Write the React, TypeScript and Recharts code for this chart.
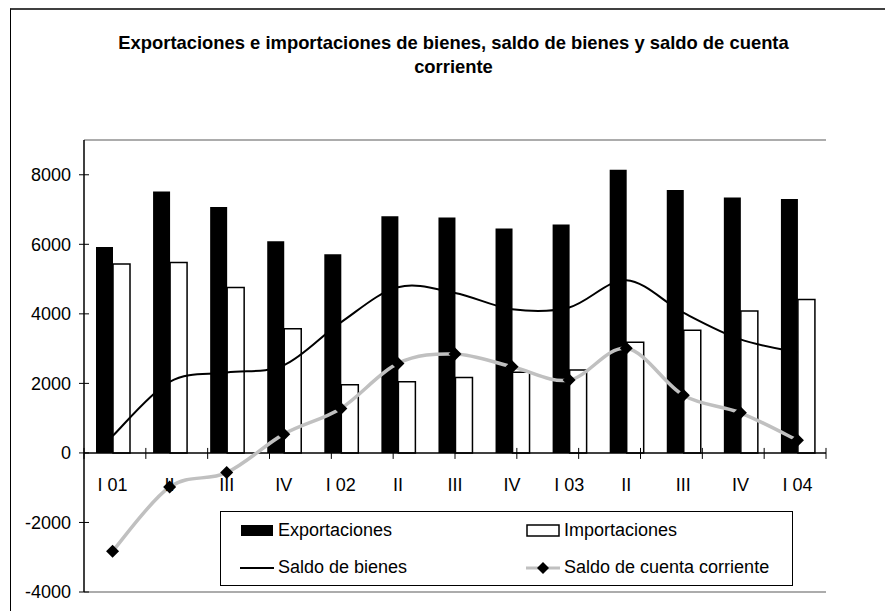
import React from 'react';
import {
    ComposedChart,
    Bar,
    Line,
    XAxis,
    YAxis,
    ReferenceLine,
    ReferenceDot,
} from 'recharts';

// Trimestres: claves únicas + etiqueta visible
const quarterKeys = ['I 01', 'II 01', 'III 01', 'IV 01', 'I 02', 'II 02', 'III 02', 'IV 02', 'I 03', 'II 03', 'III 03', 'IV 03', 'I 04'];
const quarterLabels = ['I 01', 'II', 'III', 'IV', 'I 02', 'II', 'III', 'IV', 'I 03', 'II', 'III', 'IV', 'I 04'];

const exportaciones = [5920, 7520, 7070, 6090, 5715, 6810, 6770, 6455, 6570, 8145, 7560, 7345, 7300];
const importaciones = [5435, 5475, 4755, 3570, 1960, 2045, 2170, 2320, 2385, 3180, 3525, 4080, 4410];
const saldoBienes = [485, 2045, 2315, 2520, 3755, 4765, 4600, 4135, 4185, 4965, 4035, 3265, 2890];
const saldoCuenta = [-2830, -980, -565, 540, 1280, 2575, 2845, 2480, 2095, 3010, 1660, 1155, 365];

const yTicks = [-4000, -2000, 0, 2000, 4000, 6000, 8000];
const boundaries = [0, 1, 2, 3, 4, 5, 6, 7, 8, 9, 10, 11, 12, 13];

const FONT = '"Liberation Sans", Arial, sans-serif';

const data = quarterKeys.map((q, i) => ({
    q,
    label: quarterLabels[i],
    exportaciones: exportaciones[i],
    importaciones: importaciones[i],
    saldoBienes: saldoBienes[i],
    saldoCuenta: saldoCuenta[i],
}));

// Suavizado tipo Excel (Catmull-Rom como bezier)
const smoothCurve = (context: any) => {
    let pts: number[][] = [];
    return {
        areaStart() {},
        areaEnd() {},
        lineStart() { pts = []; },
        point(x: number, y: number) { pts.push([+x, +y]); },
        lineEnd() {
            if (!pts.length) return;
            context.moveTo(pts[0][0], pts[0][1]);
            for (let i = 0; i < pts.length - 1; i++) {
                const p0 = pts[i - 1] || pts[i];
                const p1 = pts[i];
                const p2 = pts[i + 1];
                const p3 = pts[i + 2] || p2;
                context.bezierCurveTo(
                    p1[0] + (p2[0] - p0[0]) / 6, p1[1] + (p2[1] - p0[1]) / 6,
                    p2[0] - (p3[0] - p1[0]) / 6, p2[1] - (p3[1] - p1[1]) / 6,
                    p2[0], p2[1]
                );
            }
        },
    };
};

const Diamond = (props: any) => {
    const { cx, cy, index } = props;
    const r = 6.5;
    return <path key={`d-${index}`} d={`M${cx},${cy - r}L${cx + r},${cy}L${cx},${cy + r}L${cx - r},${cy}Z`} fill="#000" />;
};

const YTick = ({ x, y, payload }: any) => (
    <g>
        <line x1={x - 5} x2={x + 5} y1={y} y2={y} stroke="#000" />
        <text x={x - 13} y={y} dy="0.36em" textAnchor="end" fontSize={18} fontFamily={FONT} fill="#000">
            {payload.value}
        </text>
    </g>
);

const ChartLegend = () => {
    const item = (swatch: React.ReactNode, text: string) => (
        <div style={{ display: 'flex', alignItems: 'center', height: 37 }}>
            <svg width={34} height={14} style={{ marginRight: 4 }}>{swatch}</svg>
            <span>{text}</span>
        </div>
    );
    return (
        <div style={{
            position: 'absolute', left: 220, top: 511, width: 573, height: 75,
            border: '1.5px solid #000', background: '#fff', boxSizing: 'border-box',
            display: 'grid',
            gridTemplateColumns: '286px 1fr',
            padding: '0 0 0 19px',
            fontFamily: FONT,
            fontSize: 18,
            color: '#000',
        }}>
            {item(<rect x={1} y={1} width={32} height={11} fill="#000" />, 'Exportaciones')}
            {item(<rect x={1} y={1} width={32} height={11} fill="#fff" stroke="#000" strokeWidth={1.5} />, 'Importaciones')}
            {item(<line x1={0} x2={34} y1={7} y2={7} stroke="#000" strokeWidth={2} />, 'Saldo de bienes')}
            {item(
                <g>
                    <line x1={0} x2={34} y1={7} y2={7} stroke="#c0c0c0" strokeWidth={3} />
                    <path d="M17,1L23,7L17,13L11,7Z" fill="#000" />
                </g>,
                'Saldo de cuenta corriente'
            )}
        </div>
    );
};

const App: React.FC = () => {
    return (
        <div style={{ position: 'absolute', left: 0, top: 0, width: 885, height: 611, background: '#fff', overflow: 'hidden' }}>
            <div style={{
                position: 'absolute', left: 10, top: 8, width: 900, height: 700,
                borderTop: '2px solid #404040', borderLeft: '1.5px solid #000',
            }} />
            <div style={{
                position: 'absolute', left: 0, top: 31, width: 907, textAlign: 'center',
                fontFamily: FONT, fontWeight: 'bold', fontSize: 18.4, lineHeight: '24px', color: '#000',
            }}>
                Exportaciones e importaciones de bienes, saldo de bienes y saldo de cuenta<br />corriente
            </div>
            <div style={{ position: 'absolute', left: 0, top: 0 }}>
                <ComposedChart
                    width={885}
                    height={611}
                    data={data}
                    barGap={0}
                    margin={{ top: 140, right: 59, left: 24, bottom: 19 }}
                >
                    <XAxis dataKey="q" hide />
                    <XAxis xAxisId="n" type="number" domain={[0, 13]} hide />
                    <YAxis
                        domain={[-4000, 9000]}
                        ticks={yTicks}
                        width={60}
                        tickSize={0}
                        tickMargin={0}
                        tickLine={false}
                        axisLine={{ stroke: '#000', strokeWidth: 1.5 }}
                        tick={<YTick />}
                        interval={0}
                    />
                    {/* marco del área de trazado */}
                    <ReferenceLine y={9000} stroke="#909090" strokeWidth={1.5} ifOverflow="visible" />
                    <ReferenceLine y={-4000} stroke="#909090" strokeWidth={1.5} ifOverflow="visible" />
                    <ReferenceLine xAxisId="n" x={13} stroke="#909090" strokeWidth={1.5} ifOverflow="visible" />
                    <Bar dataKey="exportaciones" name="Exportaciones" fill="#000" barSize={17} isAnimationActive={false} />
                    <Bar dataKey="importaciones" name="Importaciones" fill="#fff" stroke="#000" strokeWidth={1.5} barSize={17} isAnimationActive={false} />
                    <ReferenceLine y={0} stroke="#000" strokeWidth={1.5} />
                    {boundaries.map((b) => (
                        <ReferenceDot
                            key={`t-${b}`}
                            xAxisId="n"
                            x={b}
                            y={0}
                            shape={(p: any) => <line x1={p.cx} x2={p.cx} y1={p.cy - 5} y2={p.cy + 6} stroke="#000" />}
                        />
                    ))}
                    {data.map((d) => (
                        <ReferenceDot
                            key={`l-${d.q}`}
                            x={d.q}
                            y={0}
                            shape={(p: any) => (
                                <text x={p.cx} y={p.cy + 38} textAnchor="middle" fontSize={18} fontFamily={FONT} fill="#000">
                                    {d.label}
                                </text>
                            )}
                        />
                    ))}
                    <Line
                        type={smoothCurve as any}
                        dataKey="saldoBienes"
                        name="Saldo de bienes"
                        stroke="#000"
                        strokeWidth={2}
                        dot={false}
                        isAnimationActive={false}
                    />
                    <Line
                        type={smoothCurve as any}
                        dataKey="saldoCuenta"
                        name="Saldo de cuenta corriente"
                        stroke="#c0c0c0"
                        strokeWidth={3.5}
                        dot={<Diamond />}
                        activeDot={false}
                        isAnimationActive={false}
                    />
                </ComposedChart>
            </div>
            <ChartLegend />
        </div>
    );
};

export default App;
